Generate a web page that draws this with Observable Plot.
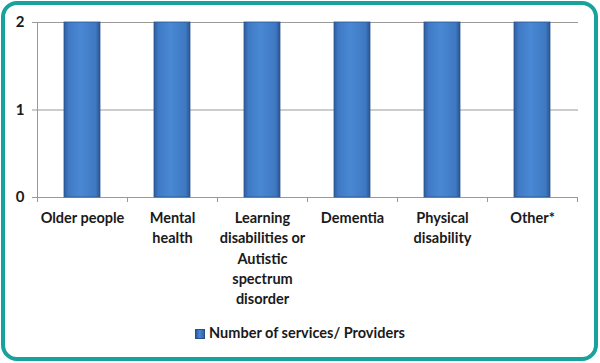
<!DOCTYPE html>
<html>
<head>
<meta charset="utf-8">
<script src="https://cdn.jsdelivr.net/npm/d3@7"></script>
<script src="https://cdn.jsdelivr.net/npm/@observablehq/plot@0.6"></script>
<style>
  html, body { margin: 0; padding: 0; background: #fff; }
  body { width: 600px; height: 363px; position: relative; overflow: hidden; font-family: Lato, "Open Sans", sans-serif; }
  #frame { position: absolute; left: 1px; top: 1px; width: 597px; height: 360px; box-sizing: border-box;
           border: 4px solid #17a29b; border-radius: 16px; }
  #chart { position: absolute; left: 0; top: 0; }
  #legend { position: absolute; left: 0; width: 600px; top: 324px; text-align: center; font-size: 14.5px; color: #1a1a1a; font-weight: bold; }
  #legend .sw { display: inline-block; width: 10px; height: 10px; vertical-align: -1px; margin-right: 4px;
                background: linear-gradient(to right, #2c5a98, #4a87d3 45%, #2f63a6); border: 1px solid #244f88; box-sizing: border-box; }
</style>
</head>
<body>
<div id="frame"></div>
<div id="chart"></div>
<div id="legend"><span class="sw"></span>Number of services/ Providers</div>
<script>
const categories = ["Older people", "Mental health", "Learning disabilities or Autistic spectrum disorder", "Dementia", "Physical disability", "Other*"];
const tickLabels = ["Older people", "Mental\nhealth", "Learning\ndisabilities or\nAutistic\nspectrum\ndisorder", "Dementia", "Physical\ndisability", "Other*"];
const values = [2, 2, 2, 2, 2, 2];
const yTicks = [0, 1, 2];
const seriesName = "Number of services/ Providers";

const data = categories.map((c, i) => ({category: c, value: values[i]}));
const labelOf = new Map(categories.map((c, i) => [c, tickLabels[i]]));

// separators between categories on the x axis
function separators(index, scales) {
  const x = scales.x, y = scales.y;
  const step = x.step();
  const y0 = y(0);
  const g = d3.create("svg:g").attr("stroke", "#999").attr("stroke-width", 1);
  const xs = categories.map(c => x(c) + x.bandwidth() / 2 - step / 2);
  xs.push(x(categories[categories.length - 1]) + x.bandwidth() / 2 + step / 2);
  for (const px of xs) {
    g.append("line").attr("x1", Math.round(px) + 0.5).attr("x2", Math.round(px) + 0.5)
      .attr("y1", y0).attr("y2", y0 + 5);
  }
  return g.node();
}

// vertical y-axis line along the plot's left edge
function yAxisLine(index, scales) {
  const x = scales.x, y = scales.y;
  const left = x(categories[0]) + x.bandwidth() / 2 - x.step() / 2;
  return d3.create("svg:line").attr("x1", Math.round(left) + 0.5).attr("x2", Math.round(left) + 0.5)
    .attr("y1", y(yTicks[yTicks.length - 1])).attr("y2", y(0)).attr("stroke", "#9a9a9a").node();
}

function gradientDefs() {
  const svg = d3.create("svg:defs");
  const lg = svg.append("linearGradient").attr("id", "barGrad").attr("x1", "0").attr("x2", "1").attr("y1", "0").attr("y2", "0");
  lg.append("stop").attr("offset", "0%").attr("stop-color", "#2d5c9c");
  lg.append("stop").attr("offset", "12%").attr("stop-color", "#3f79c3");
  lg.append("stop").attr("offset", "45%").attr("stop-color", "#4a88d4");
  lg.append("stop").attr("offset", "88%").attr("stop-color", "#3e78c1");
  lg.append("stop").attr("offset", "100%").attr("stop-color", "#2a5593");
  return svg.node();
}

const chart = Plot.plot({
  width: 600,
  height: 312,
  marginLeft: 36,
  marginRight: 22,
  marginTop: 22,
  marginBottom: 115,
  style: {fontFamily: "Lato, 'Open Sans', sans-serif", background: "transparent"},
  x: {domain: categories, paddingInner: 0.6, paddingOuter: 0.3, label: null},
  y: {domain: [0, 2], ticks: yTicks, label: null},
  marks: [
    gradientDefs,
    Plot.gridY(yTicks.filter(d => d > 0), {stroke: "#9a9a9a", strokeOpacity: 1}),
    Plot.ruleY([0], {stroke: "#9a9a9a"}),
    yAxisLine,
    Plot.barY(data, {x: "category", y: "value", fill: "url(#barGrad)", stroke: "#2b5590", strokeWidth: 0.8}),
    Plot.axisY({ticks: yTicks, tickFormat: d3.format("d"), tickSize: 4, tickPadding: 8, stroke: "#9a9a9a",
                fontSize: 15, fontWeight: "bold", fill: "#1a1a1a", label: null}),
    separators,
    Plot.axisX({tickSize: 0, tickPadding: 11, tickFormat: d => labelOf.get(d), fontSize: 14.5, fontWeight: "bold",
                fill: "#1a1a1a", lineHeight: 1.4, label: null})
  ]
});
document.getElementById("chart").appendChild(chart);
</script>
</body>
</html>
